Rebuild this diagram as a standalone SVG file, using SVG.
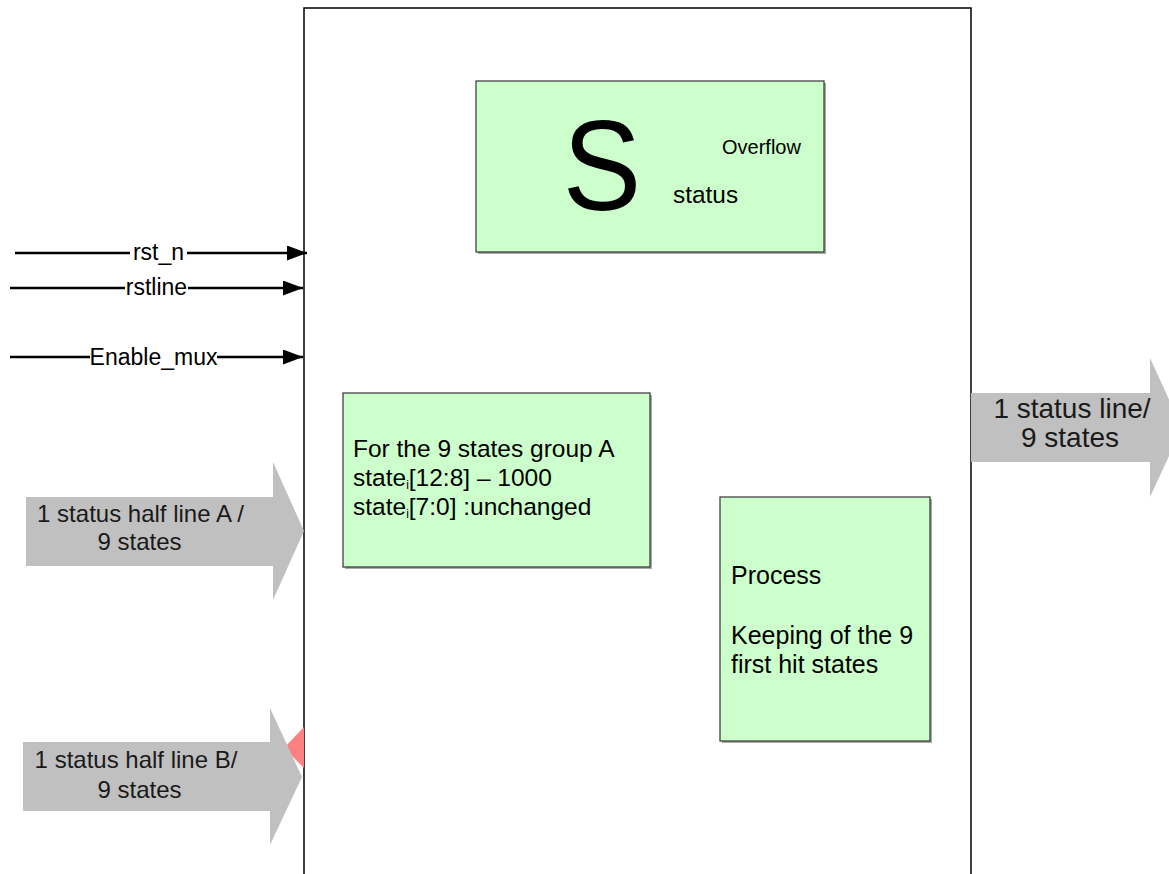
<svg xmlns="http://www.w3.org/2000/svg" width="1169" height="874" viewBox="0 0 1169 874">
<defs>
<marker id="ah" markerUnits="userSpaceOnUse" markerWidth="20" markerHeight="15" refX="20" refY="7.5" orient="auto">
<path d="M0,0 L20,7.5 L0,15 z" fill="#000"/>
</marker>
</defs>
<style>
text{font-family:"Liberation Sans",Arial,sans-serif;fill:#000}
.sig{stroke:#000;stroke-width:2.5;fill:none}
.box{fill:#ccffcc;stroke:#333;stroke-width:1.2}
.shadow{fill:#aaa}
.big{fill:#c0c0c0;stroke:none}
.lbl{font-size:23px;text-anchor:middle}
.alb{font-size:24px;text-anchor:middle;fill:#1a1a1a}
.olb{font-size:28px;text-anchor:middle;fill:#1a1a1a}
.t{font-size:24.5px}
.p{font-size:25px}
.sub{font-size:12px}
</style>
<rect x="0" y="0" width="1169" height="874" fill="#fff"/>
<g id="block">
<rect x="304" y="8" width="667" height="900" fill="#fff" stroke="#000" stroke-width="1.5"/>
</g>
<g id="red-mark">
<polygon points="304,727 284,748 304,768" fill="#ff8080"/>
</g>
<g id="in-A">
<polygon class="big" points="26,497 273,497 273,462 304,531 273,600 273,566 26,566"/>
<text class="alb" x="140.5" y="522">1 status half line A /</text>
<text class="alb" x="139.5" y="550">9 states</text>
</g>
<g id="in-B">
<polygon class="big" points="23,742 270,742 270,708 302,777 270,845 270,811 23,811"/>
<text class="alb" x="136" y="768">1 status half line B/</text>
<text class="alb" x="139.5" y="798">9 states</text>
</g>
<g id="out">
<polygon class="big" points="971,393 1150,393 1150,358 1182,428 1150,497 1150,462 971,462"/>
<text class="olb" x="1072" y="418">1 status line/</text>
<text class="olb" x="1070" y="447">9 states</text>
</g>
<g id="status-box">
<rect class="shadow" x="478" y="83" width="348" height="171"/>
<rect class="box" x="476" y="81" width="348" height="171"/>
<text x="602" y="210" style="font-size:128px" text-anchor="middle" transform="translate(602 0) scale(0.92 1) translate(-602 0)">S</text>
<text x="722" y="154" style="font-size:20px">Overflow</text>
<text x="673" y="203" style="font-size:24.4px">status</text>
</g>
<g id="groupA-box">
<rect class="shadow" x="345" y="395" width="307" height="174"/>
<rect class="box" x="343" y="393" width="307" height="174"/>
<text class="t" x="353" y="457">For the 9 states group A</text>
<text class="t" x="353" y="486">state<tspan class="sub" dy="3">i</tspan><tspan dy="-3">[12:8] – 1000</tspan></text>
<text class="t" x="353" y="515">state<tspan class="sub" dy="3">i</tspan><tspan dy="-3">[7:0] :unchanged</tspan></text>
</g>
<g id="process-box">
<rect class="shadow" x="722" y="499" width="210" height="244"/>
<rect class="box" x="720" y="497" width="210" height="244"/>
<text class="p" x="731" y="584">Process</text>
<text class="p" x="731" y="644">Keeping of the 9</text>
<text class="p" x="731" y="673">first hit states</text>
</g>
<g id="connectors">
<line class="sig" x1="15" y1="253" x2="130" y2="253"/>
<line class="sig" x1="187" y1="253" x2="307" y2="253" marker-end="url(#ah)"/>
<line class="sig" x1="10" y1="288" x2="125" y2="288"/>
<line class="sig" x1="188" y1="288" x2="303" y2="288" marker-end="url(#ah)"/>
<line class="sig" x1="10" y1="357" x2="90" y2="357"/>
<line class="sig" x1="217" y1="357" x2="303" y2="357" marker-end="url(#ah)"/>
<text class="lbl" x="158.5" y="260">rst_n</text>
<text class="lbl" x="156.5" y="295">rstline</text>
<text class="lbl" x="153.5" y="365">Enable_mux</text>
</g>
</svg>
